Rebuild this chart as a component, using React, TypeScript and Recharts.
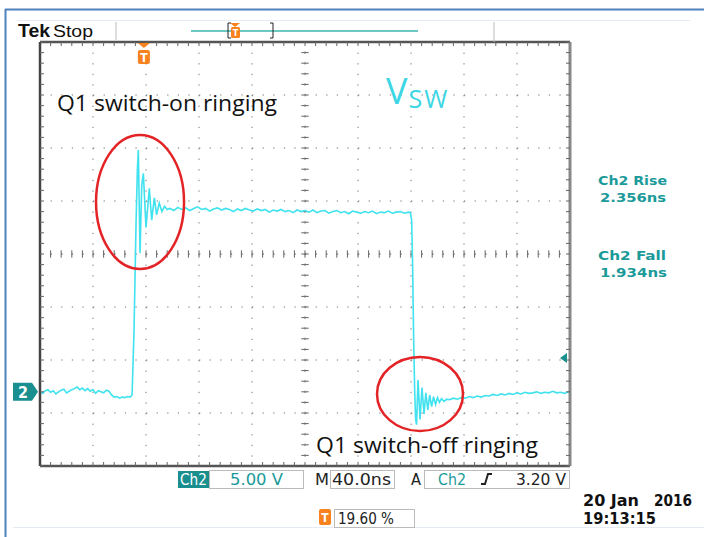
import React from 'react';
import { LineChart, Line, XAxis, YAxis, CartesianGrid, ReferenceLine, ReferenceDot } from 'recharts';

// time in ns (40 ns/div), Vsw in volts (5 V/div, ground at Ch2 marker)
const lowBefore: [number, number][] = [
  [0, 0.05], [2, -0.15], [4, 0.1], [6, 0.2], [8, -0.05], [10, 0.1], [12, -0.2], [14, 0.0],
  [16, 0.15], [18, 0.25], [20, -0.1], [22, 0.05], [24, 0.2], [26, 0.3], [28, 0.45], [30, 0.2],
  [32, 0.35], [34, 0.1], [36, 0.3], [38, 0.05], [40, 0.2], [42, -0.15], [44, 0.1], [46, 0.0],
  [48, -0.1], [50, 0.15], [52, 0.05],
];

const riseRinging: [number, number][] = [
  [54, -0.3], [56, -0.5], [58, -0.45], [60, -0.6], [62, -0.5], [64, -0.55], [66, -0.45], [68, -0.5],
  [69.5, -0.3], [71, 6], [72.5, 16], [73.5, 21], [74.2, 22.8], [75.5, 13.1], [76.8, 19.5], [78, 20.6],
  [80, 15.5], [82.5, 19.2], [84.3, 16.2], [86.3, 18.3], [88, 16.7], [90, 17.8], [92, 17.0], [94, 17.5],
  [96, 17.2],
];

const highPlateau: [number, number][] = [
  [98, 17.3], [101, 17.1], [104, 17.4], [107, 17.2], [110, 17.35], [113, 17.1], [116, 17.3], [119, 17.45],
  [122, 17.2], [125, 17.3], [128, 17.05], [131, 17.25], [134, 17.35], [137, 17.15], [140, 17.3], [143, 17.2],
  [146, 17.0], [149, 17.25], [152, 17.1], [155, 17.3], [158, 17.15], [161, 17.05], [164, 17.25], [167, 17.1],
  [170, 17.2], [173, 16.95], [176, 17.15], [179, 17.05], [182, 17.2], [185, 17.0], [188, 17.1], [191, 16.9],
  [194, 17.15], [197, 17.0], [200, 17.1], [203, 16.95], [206, 17.15], [209, 16.9], [212, 17.05], [215, 17.1],
  [218, 16.85], [221, 17.0], [224, 17.1], [227, 16.9], [230, 17.0], [233, 16.8], [236, 17.05], [239, 16.95],
  [242, 16.85], [245, 17.0], [248, 16.9], [251, 17.05], [254, 16.8], [257, 16.95], [260, 16.9], [263, 17.05],
  [266, 16.85], [269, 16.95], [272, 17.0], [275, 16.85], [278, 16.95],
];

const fallRinging: [number, number][] = [
  [279.5, 16.9], [280.5, 16.2], [281.2, 12], [282, 5], [282.8, 0], [283.5, -2.6], [284.2, -3.1],
  [285.3, 1.1], [286.8, -2.6], [288.3, 0.4], [289.8, -2.1], [291.2, -0.1], [292.7, -1.7], [294.1, -0.3],
  [295.6, -1.4], [297, -0.45], [298.5, -1.2], [300, -0.55], [301.5, -1.0], [303, -0.65], [305, -0.9],
  [307, -0.7],
];

const lowAfter: [number, number][] = [
  [309, -0.75], [312, -0.6], [315, -0.7], [318, -0.55], [321, -0.6], [324, -0.45], [327, -0.55], [330, -0.4],
  [333, -0.5], [336, -0.35], [339, -0.4], [342, -0.25], [345, -0.35], [348, -0.2], [351, -0.3], [354, -0.15],
  [357, -0.25], [360, -0.1], [363, -0.2], [366, -0.05], [369, -0.15], [372, -0.1], [375, 0.0], [378, -0.15],
  [381, -0.05], [384, -0.1], [387, 0.05], [390, -0.1], [393, -0.05], [396, -0.15], [399, 0.0], [400, -0.05],
];

const majorX = [0, 40, 80, 120, 160, 200, 240, 280, 320, 360, 400];
const majorY = [-7, -2, 3, 8, 13, 18, 23, 28, 33];
const minorX = Array.from({ length: 51 }, (_, i) => i * 8);
const minorY = Array.from({ length: 41 }, (_, i) => i - 7);

const triggerPos = 78.4; // 19.60 %
const triggerLevel = 3.2;

const trace = [...lowBefore, ...riseRinging, ...highPlateau, ...fallRinging, ...lowAfter].map(([t, v]) => ({ t, v }));

const cyan = '#3fe2ee';
const teal = '#1b9a9a';
const tealBox = '#1a8f8f';
const orange = '#f7821e';
const mono = "'DejaVu Sans Condensed', 'DejaVu Sans', sans-serif";

const ellipse = (rx: number, ry: number) => (p: any) => (
  <ellipse cx={p.cx} cy={p.cy} rx={rx} ry={ry} fill="none" stroke="#e32326" strokeWidth={2.5} />
);

const chMarker = (p: any) => (
  <g>
    <path d={`M${p.cx - 27} ${p.cy - 9} H${p.cx - 8} L${p.cx - 2} ${p.cy} L${p.cx - 8} ${p.cy + 9} H${p.cx - 27} Z`} fill={tealBox} />
    <text x={p.cx - 17} y={p.cy + 6} fill="#fff" fontSize={16} fontWeight="bold" fontFamily={mono} textAnchor="middle">2</text>
  </g>
);

const levelMarker = (p: any) => (
  <path d={`M${p.cx - 10} ${p.cy} L${p.cx - 3} ${p.cy - 5} L${p.cx - 3} ${p.cy + 5} Z`} fill={tealBox} />
);

const trigMarker = (p: any) => (
  <g>
    <path d={`M${p.cx - 6} ${p.cy + 1} H${p.cx + 6} L${p.cx} ${p.cy + 6} Z`} fill={orange} />
    <rect x={p.cx - 6} y={p.cy + 8} width={12} height={14} rx={2} fill={orange} />
    <text x={p.cx} y={p.cy + 20} fill="#fff" fontSize={12} fontWeight="bold" fontFamily={mono} textAnchor="middle">T</text>
  </g>
);

const noLabel = () => '';

export default function App() {
  return (
    <div style={{ position: 'absolute', left: 0, top: 0, width: 704, height: 537, background: '#fff' }}>
      <LineChart width={704} height={537} data={trace} margin={{ top: 42, right: 134, bottom: 71, left: 40 }}>
        <CartesianGrid
          stroke="#777"
          strokeDasharray="1.3 9.3"
          verticalValues={majorX}
          horizontalValues={majorY}
        />
        <XAxis dataKey="t" type="number" domain={[0, 400]} ticks={minorX} interval={0} mirror
          tickFormatter={noLabel} tickSize={4} tickLine={{ stroke: '#666' }} axisLine={{ stroke: '#555', strokeWidth: 2.5 }} allowDataOverflow />
        <XAxis xAxisId="top" orientation="top" dataKey="t" type="number" domain={[0, 400]} ticks={minorX} interval={0} mirror
          tickFormatter={noLabel} tickSize={4} tickLine={{ stroke: '#666' }} axisLine={{ stroke: '#555', strokeWidth: 2.5 }} allowDataOverflow />
        <YAxis type="number" domain={[-7, 33]} ticks={minorY} interval={0} mirror
          tickFormatter={noLabel} tickSize={4} tickLine={{ stroke: '#666' }} axisLine={{ stroke: '#444', strokeWidth: 2.5 }} allowDataOverflow />
        <YAxis yAxisId="right" orientation="right" type="number" domain={[-7, 33]} ticks={minorY} interval={0} mirror
          tickFormatter={noLabel} tickSize={4} tickLine={{ stroke: '#666' }} axisLine={{ stroke: '#888', strokeWidth: 3 }} allowDataOverflow />
        <ReferenceLine x={200} stroke="#999" strokeDasharray="1.3 9.3" />
        <ReferenceLine y={13} stroke="#999" strokeDasharray="1.3 9.3" />
        {minorX.map((t) => (
          <ReferenceLine key={`cx${t}`} segment={[{ x: t, y: 12.65 }, { x: t, y: 13.35 }]} stroke="#666" />
        ))}
        {minorY.map((v) => (
          <ReferenceLine key={`cy${v}`} segment={[{ x: 197.2, y: v }, { x: 202.8, y: v }]} stroke="#666" />
        ))}
        <Line type="linear" dataKey="v" stroke={cyan} strokeWidth={1.6} dot={false} isAnimationActive={false} />
        <ReferenceDot x={75.5} y={17.9} r={1} ifOverflow="visible" shape={ellipse(44, 67)} />
        <ReferenceDot x={286.8} y={-0.2} r={1} ifOverflow="visible" shape={ellipse(43, 37)} />
        <ReferenceDot x={0} y={0} r={1} ifOverflow="visible" shape={chMarker} />
        <ReferenceDot x={400} y={triggerLevel} r={1} ifOverflow="visible" shape={levelMarker} />
        <ReferenceDot x={triggerPos} y={33} r={1} ifOverflow="visible" shape={trigMarker} />
      </LineChart>
      <svg width={704} height={537} style={{ position: 'absolute', left: 0, top: 0, pointerEvents: 'none' }}>
        <line x1={5} y1={9.5} x2={704} y2={9.5} stroke="#4f81bd" strokeWidth={2} />
        <line x1={5.5} y1={9} x2={5.5} y2={537} stroke="#4f81bd" strokeWidth={2} />
        <line x1={17} y1={20.5} x2={690} y2={20.5} stroke="#e4ebf4" />
        <line x1={13} y1={527.5} x2={704} y2={527.5} stroke="#e4ebf4" />

        {/* header */}
        <text x={18} y={37} fontFamily="'Liberation Sans', sans-serif" fontWeight="bold" fontSize={18} textLength={32} lengthAdjust="spacingAndGlyphs" fill="#111">Tek</text>
        <text x={53} y={37} fontFamily="'Liberation Sans', sans-serif" fontSize={16} textLength={40} lengthAdjust="spacingAndGlyphs" fill="#111">Stop</text>
        <line x1={116} y1={22} x2={116} y2={40} stroke="#bbb" />
        <line x1={494} y1={22} x2={494} y2={42} stroke="#bbb" />
        <line x1={191} y1={31} x2={418} y2={31} stroke="#6cc8c0" strokeWidth={2} />
        <path d="M231 23 H228 V38 H231" fill="none" stroke="#222" />
        <path d="M270 23 H273 V38 H270" fill="none" stroke="#222" />
        <path d="M230 23 H240 L235 27 Z" fill={orange} />
        <rect x={231} y={27} width={9} height={11} rx={1.5} fill={orange} />
        <text x={235.5} y={36} fontSize={9} fontWeight="bold" fill="#fff" textAnchor="middle" fontFamily={mono}>T</text>

        {/* annotations */}
        <text x={57} y={111} fontFamily="'Open Sans', sans-serif" fontSize={21} textLength={220} lengthAdjust="spacingAndGlyphs" fill="#111">Q1 switch-on ringing</text>
        <text x={316} y={453} fontFamily="'Open Sans', sans-serif" fontSize={21} textLength={222} lengthAdjust="spacingAndGlyphs" fill="#111">Q1 switch-off ringing</text>
        <text x={386} y={104} fontFamily="'Open Sans', sans-serif" fill="#3dd6e4">
          <tspan fontSize={36}>V</tspan>
          <tspan fontSize={25} dy={4} dx={1} letterSpacing={2}>SW</tspan>
        </text>

        {/* measurements */}
        <g fontFamily={mono} fontWeight="bold" fontSize={13} fill={teal}>
          <text x={598} y={185} textLength={69} lengthAdjust="spacingAndGlyphs">Ch2 Rise</text>
          <text x={600} y={202} textLength={66} lengthAdjust="spacingAndGlyphs">2.356ns</text>
          <text x={598} y={260} textLength={68} lengthAdjust="spacingAndGlyphs">Ch2 Fall</text>
          <text x={600} y={277} textLength={67} lengthAdjust="spacingAndGlyphs">1.934ns</text>
        </g>

        {/* status bar */}
        <g fontFamily={mono} fontSize={15}>
          <rect x={178} y={471} width={31} height={17} fill={tealBox} />
          <text x={180} y={485} fill="#fff" textLength={27} lengthAdjust="spacingAndGlyphs">Ch2</text>
          <rect x={209.5} y={470.5} width={94} height={18} fill="#fff" stroke="#bbb" />
          <text x={230} y={485} fill={teal} textLength={53} lengthAdjust="spacingAndGlyphs">5.00 V</text>
          <text x={315} y={485} fill="#222" textLength={14} lengthAdjust="spacingAndGlyphs">M</text>
          <rect x={330.5} y={470.5} width={64} height={18} fill="#fff" stroke="#bbb" />
          <text x={332} y={485} fill="#222" textLength={59} lengthAdjust="spacingAndGlyphs">40.0ns</text>
          <text x={411} y={485} fill="#222" textLength={10} lengthAdjust="spacingAndGlyphs">A</text>
          <rect x={424.5} y={470.5} width={145} height={18} fill="#fff" stroke="#bbb" />
          <text x={438} y={485} fill={teal} textLength={28} lengthAdjust="spacingAndGlyphs">Ch2</text>
          <path d="M481 484 H485 L488 474 H492" fill="none" stroke="#222" strokeWidth={2} />
          <text x={516} y={485} fill="#222" textLength={50} lengthAdjust="spacingAndGlyphs">3.20 V</text>
          <rect x={319} y={509} width={12} height={16} rx={2} fill={orange} />
          <text x={325} y={522} fill="#fff" fontSize={12} fontWeight="bold" textAnchor="middle">T</text>
          <rect x={334.5} y={509.5} width={80} height={18} fill="#fff" stroke="#bbb" />
          <text x={338} y={524} fill="#222" textLength={56} lengthAdjust="spacingAndGlyphs">19.60 %</text>
          <text x={583} y={506} fill="#111" fontWeight="bold" textLength={56} lengthAdjust="spacingAndGlyphs">20 Jan</text>
          <text x={654} y={506} fill="#111" fontWeight="bold" textLength={38} lengthAdjust="spacingAndGlyphs">2016</text>
          <text x={583} y={524} fill="#111" fontWeight="bold" textLength={73} lengthAdjust="spacingAndGlyphs">19:13:15</text>
        </g>
      </svg>
    </div>
  );
}
